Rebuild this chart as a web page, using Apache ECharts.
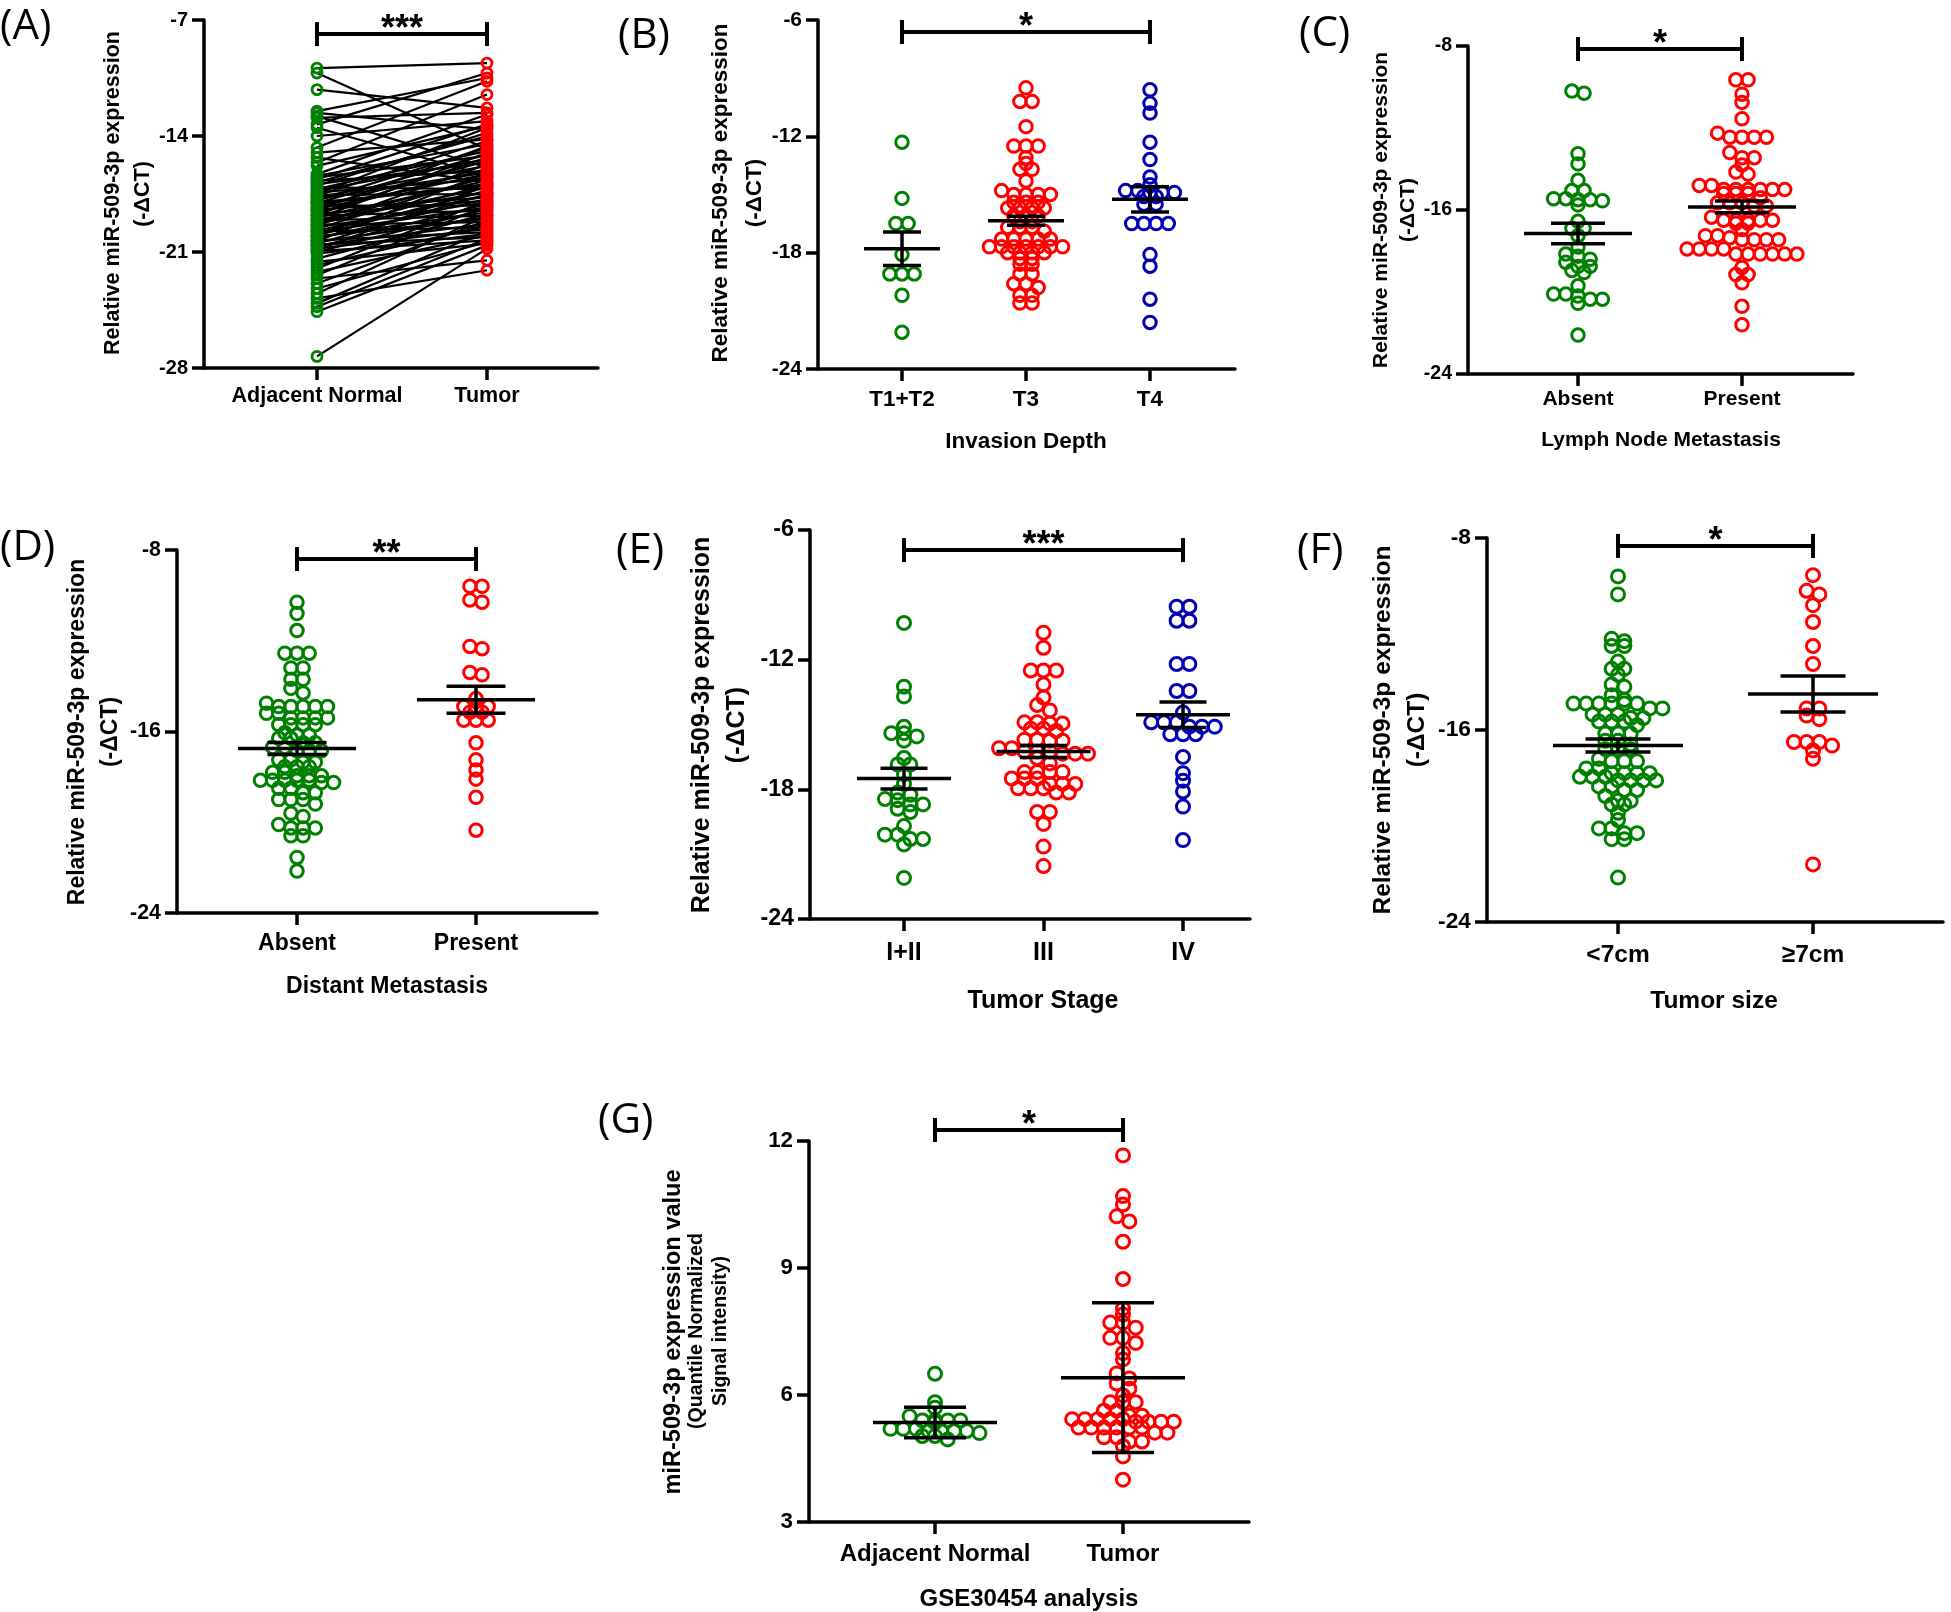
<!DOCTYPE html>
<html><head><meta charset="utf-8">
<script src="https://cdn.jsdelivr.net/npm/echarts@6/dist/echarts.min.js"></script>
<style>html,body{margin:0;padding:0;background:#fff}#c{width:1951px;height:1612px}</style>
</head><body><div id="c"></div>
<script>
// ================= DATA =================
// (A) paired samples
const catsA = ['Adjacent Normal', 'Tumor'];
const yTicksA = [-28, -21, -14, -7];
const pairedNormal = [
-9.9, -10.2, -11.2, -12.5, -12.6, -12.8, -12.9, -13.3, -13.5, -14.0,
-14.7, -15.0, -15.3, -15.6, -15.8, -16.3, -16.4, -16.5, -16.6, -16.7,
-16.8, -16.9, -17.0, -17.1, -17.2, -17.3, -17.4, -17.5, -17.55, -17.6,
-17.7, -17.8, -17.9, -18.0, -18.05, -18.1, -18.2, -18.3, -18.4, -18.45,
-18.5, -18.6, -18.7, -18.75, -18.8, -18.9, -19.0, -19.05, -19.1, -19.2,
-19.3, -19.35, -19.4, -19.5, -19.6, -19.7, -19.75, -19.8, -19.9, -20.0,
-20.05, -20.1, -20.2, -20.3, -20.35, -20.4, -20.5, -20.55, -20.6, -20.7,
-20.8, -20.9, -20.95, -21.0, -21.1, -21.4, -21.6, -21.8, -22.0, -22.2,
-22.4, -22.6, -22.9, -23.2, -23.5, -23.8, -24.1, -24.3, -24.6, -27.3];
const pairedTumor = [
-9.6, -14.8, -12.3, -10.5, -13.6, -15.9, -12.6, -10.2, -16.4, -13.1,
-10.7, -14.2, -16.8, -11.5, -13.4, -12.7, -14.5, -15.2, -13.3, -16.1,
-14.0, -15.6, -13.8, -17.2, -14.9, -15.4, -16.6, -13.5, -17.5, -14.3,
-15.8, -16.2, -14.7, -17.0, -15.1, -16.9, -18.2, -15.5, -16.3, -17.7,
-14.6, -16.0, -17.9, -15.3, -18.5, -16.7, -15.0, -17.4, -18.8, -16.5,
-17.1, -19.2, -15.7, -18.0, -16.4, -17.6, -19.5, -18.3, -16.9, -17.3,
-19.0, -18.6, -17.8, -19.8, -16.2, -18.9, -17.5, -20.1, -19.3, -18.1,
-19.6, -17.0, -20.3, -18.4, -19.9, -18.7, -20.5, -19.4, -17.9, -20.0,
-18.2, -21.5, -19.1, -20.4, -18.8, -22.1, -19.7, -20.2, -20.6, -20.8];
const sigA = [1, 2, -7.85, '***'];

// (B) invasion depth
const catsB = ['T1+T2', 'T3', 'T4'];
const yTicksB = [-24, -18, -12, -6];
const bT12 = [-12.3, -15.2, -16.5, -16.5, -18.1, -19.1, -19.1, -19.1, -20.2, -22.1];
const bT3 = [-9.5, -10.2, -10.2, -11.5, -12.5, -12.5, -12.5, -13.1, -13.4, -13.7, -13.7, -14.3, -14.8,
 -15.0, -15.0, -15.0, -15.0, -15.4, -15.4, -15.4, -15.7, -15.7, -15.7, -15.7, -16.1, -16.1, -16.1,
 -16.4, -16.4, -16.7, -16.7, -16.7, -16.9, -17.3, -17.3, -17.3, -17.3, -17.3, -17.7, -17.7, -17.7,
 -17.7, -17.7, -17.7, -17.7, -18.0, -18.0, -18.0, -18.0, -18.3, -18.3, -18.6, -18.6, -19.1, -19.1,
 -19.6, -19.6, -19.8, -20.2, -20.2, -20.6, -20.6];
const bT4 = [-9.6, -10.3, -10.8, -12.3, -13.2, -14.1, -14.5, -14.8, -14.8, -14.9, -14.9, -14.9, -15.1,
 -15.1, -15.5, -15.5, -16.5, -16.5, -16.5, -16.5, -18.1, -18.7, -20.4, -21.6];
const bMean = [-17.8, -16.35, -15.25];
const bSem = [0.86, 0.23, 0.65];
const sigB = [1, 3, -6.62, '*'];

// (C) lymph node metastasis
const catsC = ['Absent', 'Present'];
const yTicksC = [-24, -16, -8];
const cAbsent = [-10.2, -10.3, -13.25, -13.75, -14.55, -15.05, -15.05, -15.45, -15.45, -15.5, -15.5,
 -15.55, -15.75, -16.55, -16.9, -16.9, -17.25, -17.8, -18.15, -18.25, -18.4, -18.55, -18.75, -18.75,
 -18.95, -19.05, -19.7, -20.1, -20.1, -20.2, -20.35, -20.35, -20.55, -22.1];
const cPresent = [-9.65, -9.65, -10.35, -10.75, -11.55, -12.25, -12.45, -12.45, -12.45, -12.45, -13.2,
 -13.45, -13.45, -13.8, -14.15, -14.25, -14.8, -14.8, -15.0, -15.0, -15.0, -15.0, -15.0, -15.0, -15.2,
 -15.2, -15.2, -15.4, -15.65, -15.65, -15.65, -15.8, -15.8, -16.35, -16.5, -16.5, -16.5, -16.5, -16.5,
 -16.65, -16.65, -16.95, -17.25, -17.25, -17.35, -17.45, -17.45, -17.45, -17.45, -17.9, -17.9, -17.9,
 -17.9, -18.15, -18.15, -18.15, -18.15, -18.15, -18.15, -18.8, -19.15, -19.15, -19.55, -20.7, -21.6];
const cMean = [-17.15, -15.85];
const cSem = [0.5, 0.29];
const sigC = [1, 2, -8.15, '*'];

// (D) distant metastasis
const catsD = ['Absent', 'Present'];
const yTicksD = [-24, -16, -8];
const dAbsent = [-10.3, -10.8, -11.55, -12.55, -12.55, -12.55, -13.2, -13.2, -13.7, -13.7, -14.1, -14.3,
 -14.75, -14.9, -14.9, -14.9, -14.9, -14.9, -15.2, -15.2, -15.4, -15.4, -15.4, -15.4, -15.7, -15.7,
 -15.7, -15.7, -16.05, -16.15, -16.15, -16.3, -16.3, -16.5, -16.5, -16.7, -16.7, -16.85, -16.85,
 -16.85, -17.25, -17.25, -17.35, -17.35, -17.55, -17.55, -17.55, -17.8, -17.8, -17.95, -17.95, -17.95,
 -18.15, -18.15, -18.15, -18.15, -18.15, -18.25, -18.25, -18.5, -18.5, -18.7, -18.7, -19.0, -19.0,
 -19.0, -19.2, -19.6, -19.75, -20.1, -20.25, -20.25, -20.25, -20.6, -20.6, -21.55, -22.15];
const dPresent = [-9.6, -9.6, -10.2, -10.3, -12.25, -12.35, -13.4, -13.5, -14.55, -14.9, -14.9, -14.9,
 -15.15, -15.15, -15.5, -15.5, -15.5, -16.5, -17.25, -17.7, -18.1, -18.9, -20.35];
const dMean = [-16.75, -14.6];
const dSem = [0.26, 0.6];
const sigD = [1, 2, -8.4, '**'];

// (E) tumor stage
const catsE = ['I+II', 'III', 'IV'];
const yTicksE = [-24, -18, -12, -6];
const eI = [-10.3, -13.25, -13.7, -15.1, -15.4, -15.4, -15.55, -15.75, -16.55, -16.85, -16.85, -17.3,
 -17.75, -18.15, -18.25, -18.45, -18.5, -18.7, -18.7, -18.9, -19.05, -19.7, -20.1, -20.1, -20.3, -20.3,
 -20.55, -22.1];
const eIII = [-10.75, -11.45, -12.5, -12.5, -12.5, -13.15, -13.75, -14.1, -14.35, -14.9, -14.9, -14.95,
 -14.95, -15.2, -15.2, -15.3, -15.7, -15.7, -15.75, -15.75, -16.1, -16.1, -16.25, -16.25, -16.25,
 -16.35, -16.35, -16.35, -16.55, -16.8, -17.2, -17.2, -17.2, -17.2, -17.5, -17.5, -17.5, -17.75,
 -17.75, -17.75, -17.95, -17.95, -17.95, -18.15, -18.15, -19.05, -19.05, -19.6, -20.65, -21.55];
const eIV = [-9.55, -9.55, -10.2, -10.2, -12.2, -12.2, -13.45, -13.45, -14.45, -14.9, -14.9, -14.9,
 -15.1, -15.1, -15.1, -15.45, -15.45, -15.45, -16.5, -17.25, -17.6, -18.1, -18.8, -20.35];
const eMean = [-17.5, -16.25, -14.55];
const eSem = [0.48, 0.28, 0.59];
const sigE = [1, 3, -6.93, '***'];

// (F) tumor size
const catsF = ['<7cm', '\u22657cm'];
const yTicksF = [-24, -16, -8];
const fSmall = [-9.6, -10.35, -12.2, -12.3, -12.5, -12.5, -13.15, -13.45, -13.45, -13.7, -14.1, -14.2,
 -14.55, -14.75, -14.9, -14.9, -14.9, -14.9, -14.9, -14.9, -15.1, -15.1, -15.35, -15.35, -15.35, -15.5,
 -15.5, -15.65, -15.65, -15.65, -15.8, -16.15, -16.15, -16.15, -16.45, -16.45, -16.6, -16.8, -16.8,
 -16.8, -17.2, -17.3, -17.3, -17.3, -17.6, -17.6, -17.8, -17.8, -17.8, -17.8, -17.95, -17.95, -17.95,
 -18.1, -18.1, -18.1, -18.1, -18.35, -18.35, -18.5, -18.5, -18.75, -18.95, -18.95, -19.1, -19.1,
 -19.45, -19.75, -20.1, -20.1, -20.3, -20.3, -20.55, -20.55, -22.15];
const fLarge = [-9.55, -10.2, -10.35, -10.8, -11.5, -12.5, -13.25, -15.1, -15.1, -15.4, -15.55, -16.5,
 -16.5, -16.5, -16.65, -16.85, -17.2, -21.6];
const fMean = [-16.65, -14.5];
const fSem = [0.27, 0.75];
const sigF = [1, 2, -8.33, '*'];

// (G) GSE30454
const catsG = ['Adjacent Normal', 'Tumor'];
const yTicksG = [3, 6, 9, 12];
const gNormal = [6.5, 5.83, 5.7, 5.5, 5.4, 5.4, 5.4, 5.4, 5.35, 5.2, 5.2, 5.2, 5.15, 5.15, 5.15, 5.15,
 5.1, 5.03, 5.03, 4.95];
const gTumor = [11.66, 10.7, 10.5, 10.22, 10.1, 9.62, 8.74, 8.04, 7.9, 7.71, 7.71, 7.59, 7.35, 7.35,
 7.23, 6.99, 6.84, 6.51, 6.39, 6.27, 6.15, 5.99, 5.83, 5.83, 5.83, 5.63, 5.63, 5.51, 5.51, 5.43, 5.43,
 5.43, 5.43, 5.43, 5.37, 5.37, 5.37, 5.37, 5.23, 5.23, 5.23, 5.23, 5.23, 5.23, 5.11, 5.11, 5.0, 5.0,
 4.9, 4.9, 4.79, 4.55, 4.0];
const gMean = [5.35, 6.41];
const gSd = [0.36, 1.77];
const sigG = [1, 2, 12.26, '*'];

// ================= STYLE / LAYOUT =================
const FONT = "'Liberation Sans', Arial, Helvetica, sans-serif";
const LBL_FONT = "'Open Sans', 'Noto Sans', sans-serif";
const GREEN = '#008000', RED = '#ff0000', BLUE = '#0000b4';

const panels = [
 {id:'A', cats:catsA, ticks:yTicksA, paired:[pairedNormal, pairedTumor], colors:[GREEN, RED], sig:sigA,
  L:{x0:204, y0:20, y1:368, x1:598, cx:[317,487], fs:21.5, cm:17, sym:10},
  ylab:[['Relative miR-509-3p expression',113,193,21.5],['(-\u0394CT)',143,194,21.5]], label:[0,27]},
 {id:'B', cats:catsB, ticks:yTicksB, groups:[bT12,bT3,bT4], mean:bMean, err:bSem, colors:[GREEN,RED,BLUE], sig:sigB,
  L:{x0:818, y0:20, y1:369, x1:1235, cx:[902,1026,1150], fs:22.5, cm:19, sym:12.5, mw:38},
  ylab:[['Relative miR-509-3p expression',721,193,22.5],['(-\u0394CT)',755,193,22.5]],
  xname:['Invasion Depth',1026,442], label:[618,36]},
 {id:'C', cats:catsC, ticks:yTicksC, groups:[cAbsent,cPresent], mean:cMean, err:cSem, colors:[GREEN,RED], sig:sigC,
  L:{x0:1468, y0:46, y1:374, x1:1853, cx:[1578,1742], fs:21, cm:15, sym:12.5, mw:54},
  ylab:[['Relative miR-509-3p expression',1381,210,21],['(-\u0394CT)',1408,210,21]],
  xname:['Lymph Node Metastasis',1661,440], label:[1299,34]},
 {id:'D', cats:catsD, ticks:yTicksD, groups:[dAbsent,dPresent], mean:dMean, err:dSem, colors:[GREEN,RED], sig:sigD,
  L:{x0:177, y0:550, y1:913, x1:597, cx:[297,476], fs:23, cm:19, sym:12.5, mw:59},
  ylab:[['Relative miR-509-3p expression',78,732,23],['(-\u0394CT)',111,732,23]],
  xname:['Distant Metastasis',387,987], label:[0,548]},
 {id:'E', cats:catsE, ticks:yTicksE, groups:[eI,eIII,eIV], mean:eMean, err:eSem, colors:[GREEN,RED,BLUE], sig:sigE,
  L:{x0:810, y0:530, y1:919, x1:1250, cx:[904,1043,1183], fs:25, cm:22, sym:13, mw:47},
  ylab:[['Relative miR-509-3p expression',702,725,25],['(-\u0394CT)',737,725,25]],
  xname:['Tumor Stage',1043,1001], label:[616,551]},
 {id:'F', cats:catsF, ticks:yTicksF, groups:[fSmall,fLarge], mean:fMean, err:fSem, colors:[GREEN,RED], sig:sigF,
  L:{x0:1487, y0:538, y1:922, x1:1943, cx:[1618,1813], fs:24.5, cm:21, sym:13, mw:65},
  ylab:[['Relative miR-509-3p expression',1383,730,24.5],['(-\u0394CT)',1417,730,24.5]],
  xname:['Tumor size',1714,1001], label:[1297,551]},
 {id:'G', cats:catsG, ticks:yTicksG, groups:[gNormal,gTumor], mean:gMean, err:gSd, colors:[GREEN,RED], sig:sigG,
  L:{x0:809, y0:1141, y1:1522, x1:1249, cx:[935,1123], fs:24, cm:20, sym:13, mw:62},
  ylab:[['miR-509-3p expression value',673,1332,23.6],['(Quantile Normalized',697,1331,19.6],['Signal intensity)',721,1331,19.4]],
  xname:['GSE30454 analysis',1029,1599], label:[598,1121]}
];

// row-binned scatter spread (GraphPad-like): returns pixel x-offsets
function swarm(values, pxPerY, binH, spacing) {
  const idx = values.map((v, i) => i).sort((a, b) => values[b] - values[a]);
  const out = new Array(values.length);
  let k = 0;
  while (k < idx.length) {
    const start = values[idx[k]], bin = [];
    while (k < idx.length && (start - values[idx[k]]) * pxPerY < binH) { bin.push(idx[k]); k++; }
    const n = bin.length;
    bin.forEach((id, j) => { out[id] = (j - (n - 1) / 2) * spacing; });
  }
  return out;
}

const axisLine = {color: '#000', width: 3.5};
const grids = [], xAxes = [], yAxes = [], series = [], graphics = [];

panels.forEach((P, pi) => {
  const L = P.L, n = P.cats.length;
  const unit = (L.cx[n - 1] - L.cx[0]) / (n - 1);
  const xMin = 1 - (L.cx[0] - L.x0) / unit;
  const xMax = 1 + (L.x1 - L.cx[0]) / unit;
  const yMin = P.ticks[0], yMax = P.ticks[P.ticks.length - 1], yInt = P.ticks[1] - P.ticks[0];
  const pxPerY = (L.y1 - L.y0) / (yMax - yMin);
  const catVals = P.cats.map((c, i) => i + 1);
  grids.push({left: L.x0, top: L.y0, width: L.x1 - L.x0, height: L.y1 - L.y0});
  xAxes.push({gridIndex: pi, type: 'value', min: xMin, max: xMax,
    axisLine: {onZero: false, lineStyle: axisLine},
    axisTick: {show: true, customValues: catVals, length: 12, lineStyle: axisLine},
    axisLabel: {customValues: catVals, formatter: v => P.cats[Math.round(v) - 1], margin: L.cm,
      fontSize: L.fs, fontWeight: 'bold', color: '#000', fontFamily: FONT},
    splitLine: {show: false}});
  yAxes.push({gridIndex: pi, type: 'value', min: yMin, max: yMax, interval: yInt,
    axisLine: {show: true, onZero: false, lineStyle: axisLine},
    axisTick: {show: true, length: 12, lineStyle: axisLine},
    axisLabel: {margin: 16, fontSize: L.fs * 0.93, fontWeight: 'bold', color: '#000', fontFamily: FONT},
    splitLine: {show: false}});

  if (P.paired) {
    const [nv, tv] = P.paired;
    series.push({type: 'custom', xAxisIndex: pi, yAxisIndex: pi, silent: true, z: 1, animation: false,
      data: nv.map((v, i) => [v, tv[i]]),
      renderItem: (params, api) => {
        const a = api.coord([1, api.value(0)]), b = api.coord([2, api.value(1)]);
        return {type: 'line', shape: {x1: a[0], y1: a[1], x2: b[0], y2: b[1]}, style: {stroke: '#000', lineWidth: 2.2}};
      }});
    P.paired.forEach((vals, gi) => {
      series.push({type: 'scatter', xAxisIndex: pi, yAxisIndex: pi, silent: true, z: 3, animation: false,
        symbol: 'circle', symbolSize: L.sym,
        itemStyle: {color: 'rgba(0,0,0,0)', borderColor: P.colors[gi], borderWidth: 2.8, opacity: 1},
        data: vals.map(v => [gi + 1, v])});
    });
  } else {
    P.groups.forEach((vals, gi) => {
      const offs = swarm(vals, pxPerY, 5.5, L.sym - 0.3);
      series.push({type: 'scatter', xAxisIndex: pi, yAxisIndex: pi, silent: true, z: 3, animation: false,
        symbol: 'circle', symbolSize: L.sym,
        itemStyle: {color: 'rgba(0,0,0,0)', borderColor: P.colors[gi], borderWidth: 3, opacity: 1},
        data: vals.map((v, k) => [gi + 1 + offs[k] / unit, v])});
    });
    const mw = L.mw, cw = L.mw / 2;
    series.push({type: 'custom', xAxisIndex: pi, yAxisIndex: pi, silent: true, z: 6, animation: false,
      data: P.mean.map((m, i) => [i + 1, m, P.err[i]]),
      renderItem: (params, api) => {
        const x = api.value(0), m = api.value(1), e = api.value(2);
        const pm = api.coord([x, m]), pt = api.coord([x, m + e]), pb = api.coord([x, m - e]);
        const st = {stroke: '#000', lineWidth: 3.5};
        const ln = (x1, y1, x2, y2) => ({type: 'line', shape: {x1, y1, x2, y2}, style: st});
        return {type: 'group', children: [
          ln(pm[0] - mw, pm[1], pm[0] + mw, pm[1]),
          ln(pt[0], pt[1], pb[0], pb[1]),
          ln(pt[0] - cw, pt[1], pt[0] + cw, pt[1]),
          ln(pb[0] - cw, pb[1], pb[0] + cw, pb[1])]};
      }});
  }
  // significance bar
  const S = P.sig;
  series.push({type: 'custom', xAxisIndex: pi, yAxisIndex: pi, silent: true, z: 6, animation: false, clip: false,
    data: [[S[0], S[1], S[2]]],
    renderItem: (params, api) => {
      const a = api.coord([api.value(0), api.value(2)]), b = api.coord([api.value(1), api.value(2)]);
      const st = {stroke: '#000', lineWidth: 4};
      const c = 12;
      return {type: 'group', children: [
        {type: 'line', shape: {x1: a[0], y1: a[1], x2: b[0], y2: b[1]}, style: st},
        {type: 'line', shape: {x1: a[0], y1: a[1] - c, x2: a[0], y2: a[1] + c}, style: st},
        {type: 'line', shape: {x1: b[0], y1: b[1] - c, x2: b[0], y2: b[1] + c}, style: st},
        {type: 'text', x: (a[0] + b[0]) / 2, y: a[1] + 14,
          style: {text: S[3], fill: '#000', font: 'bold 36px ' + FONT, textAlign: 'center', textVerticalAlign: 'bottom'}}]};
    }});
  // texts
  P.ylab.forEach(t => graphics.push({type: 'text', x: t[1], y: t[2], rotation: Math.PI / 2,
    style: {text: t[0], fill: '#000', font: 'bold ' + t[3] + 'px ' + FONT, textAlign: 'center', textVerticalAlign: 'middle'}}));
  if (P.xname) graphics.push({type: 'text', x: P.xname[1], y: P.xname[2],
    style: {text: P.xname[0], fill: '#000', font: 'bold ' + L.fs + 'px ' + FONT, textAlign: 'center', textVerticalAlign: 'middle'}});
  graphics.push({type: 'text', x: P.label[0], y: P.label[1],
    style: {text: '(' + P.id + ')', fill: '#000', font: '42px ' + LBL_FONT, textAlign: 'left', textVerticalAlign: 'middle'}});
});

const chart = echarts.init(document.getElementById('c'), null, {renderer: 'canvas', width: 1951, height: 1612});
chart.setOption({
  backgroundColor: '#fff', animation: false,
  grid: grids, xAxis: xAxes, yAxis: yAxes, series: series, graphic: graphics
});
</script></body></html>
